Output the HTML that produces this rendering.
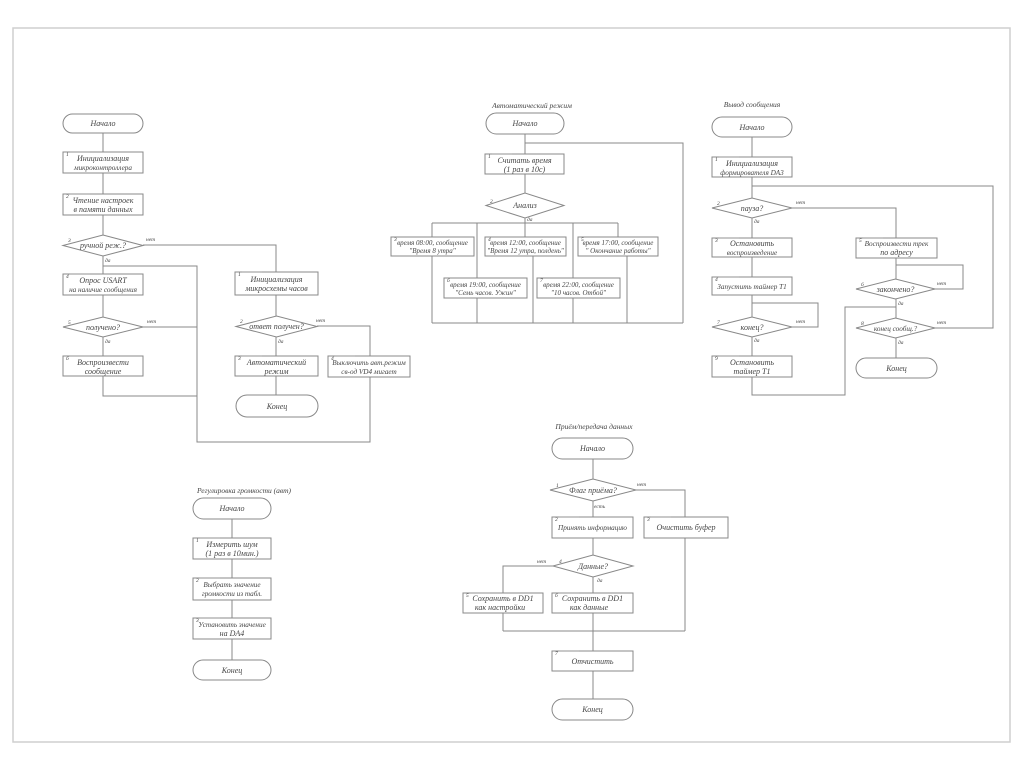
<!DOCTYPE html>
<html>
<head>
<meta charset="utf-8">
<style>
html,body{margin:0;padding:0;background:#fff;}
svg{display:block;}
text{font-family:"Liberation Serif","Noto Serif CJK SC",serif;font-style:italic;fill:#454545;}
.t{font-size:8px;text-anchor:middle;}
.t7{font-size:7.2px;text-anchor:middle;}
.s{font-size:7px;text-anchor:middle;}
.n{font-size:5.5px;}
.l{font-size:5.5px;}
.h{font-size:7.5px;text-anchor:middle;}
</style>
</head>
<body>
<svg width="1024" height="767" viewBox="0 0 1024 767" xmlns="http://www.w3.org/2000/svg">
<rect x="0" y="0" width="1024" height="767" fill="#fff"/>
<rect x="13" y="28" width="997" height="714" fill="none" stroke="#cfcfcf" stroke-width="1.5"/>

<g fill="none" stroke="#888" stroke-width="1">
<!-- ===== Left chart ===== -->
<rect x="63" y="114" width="80" height="19" rx="9.5"/>
<line x1="103" y1="133" x2="103" y2="152"/>
<rect x="63" y="152" width="80" height="21"/>
<line x1="103" y1="173" x2="103" y2="194"/>
<rect x="63" y="194" width="80" height="21"/>
<line x1="103" y1="215" x2="103" y2="235"/>
<polygon points="63,245.5 103,235 143,245.5 103,256"/>
<polyline points="143,245 276,245 276,272"/>
<line x1="103" y1="256" x2="103" y2="274"/>
<polyline points="103,266 197,266 197,442 370,442 370,377"/>
<rect x="63" y="274" width="80" height="21"/>
<line x1="103" y1="295" x2="103" y2="317"/>
<polygon points="63,327 103,317 143,327 103,337"/>
<line x1="143" y1="327" x2="197" y2="327"/>
<line x1="103" y1="337" x2="103" y2="356"/>
<rect x="63" y="356" width="80" height="20"/>
<polyline points="103,376 103,396 197,396"/>

<rect x="235" y="272" width="83" height="23"/>
<line x1="276" y1="295" x2="276" y2="316"/>
<polygon points="236,326.5 276.5,316 317,326.5 276.5,337"/>
<polyline points="317,326 370,326 370,356"/>
<line x1="276" y1="337" x2="276" y2="356"/>
<rect x="235" y="356" width="83" height="20"/>
<rect x="328" y="356" width="82" height="21"/>
<line x1="276" y1="376" x2="276" y2="395"/>
<rect x="236" y="395" width="82" height="22" rx="11"/>

<!-- ===== Automatic mode ===== -->
<rect x="486" y="113" width="78" height="21" rx="10.5"/>
<line x1="525" y1="134" x2="525" y2="154"/>
<polyline points="683,323 683,143 525,143"/>
<rect x="485" y="154" width="79" height="20"/>
<line x1="525" y1="174" x2="525" y2="193"/>
<polygon points="486,205.5 525,193 564,205.5 525,218"/>
<line x1="525" y1="218" x2="525" y2="223"/>
<line x1="432" y1="223" x2="618" y2="223"/>
<line x1="432" y1="223" x2="432" y2="237"/>
<line x1="477" y1="223" x2="477" y2="278"/>
<line x1="525" y1="223" x2="525" y2="237"/>
<line x1="573" y1="223" x2="573" y2="278"/>
<line x1="618" y1="223" x2="618" y2="237"/>
<rect x="391" y="237" width="83" height="19"/>
<rect x="485" y="237" width="81" height="19"/>
<rect x="578" y="237" width="80" height="19"/>
<rect x="444" y="278" width="83" height="20"/>
<rect x="537" y="278" width="83" height="20"/>
<line x1="432" y1="256" x2="432" y2="323"/>
<line x1="477" y1="298" x2="477" y2="323"/>
<line x1="533" y1="256" x2="533" y2="323"/>
<line x1="573" y1="298" x2="573" y2="323"/>
<line x1="627" y1="256" x2="627" y2="323"/>
<line x1="432" y1="323" x2="683" y2="323"/>

<!-- ===== Message output ===== -->
<rect x="712" y="117" width="80" height="20" rx="10"/>
<line x1="752" y1="137" x2="752" y2="157"/>
<rect x="712" y="157" width="80" height="20"/>
<line x1="752" y1="177" x2="752" y2="198"/>
<polyline points="935,328 993,328 993,186 752,186"/>
<polygon points="712,208 752,198 792,208 752,218"/>
<polyline points="792,208 896,208 896,238"/>
<line x1="752" y1="218" x2="752" y2="238"/>
<rect x="712" y="238" width="80" height="19"/>
<rect x="856" y="238" width="81" height="20"/>
<line x1="752" y1="257" x2="752" y2="277"/>
<rect x="712" y="277" width="80" height="18"/>
<line x1="752" y1="295" x2="752" y2="317"/>
<polyline points="792,327 818,327 818,303 752,303"/>
<polygon points="712,327 752,317 792,327 752,337"/>
<line x1="752" y1="337" x2="752" y2="356"/>
<rect x="712" y="356" width="80" height="21"/>
<polyline points="752,377 752,395 845,395 845,307 896,307"/>
<line x1="896" y1="258" x2="896" y2="279"/>
<polyline points="935,289 963,289 963,265 896,265"/>
<polygon points="856,289 895.5,279 935,289 895.5,299"/>
<line x1="896" y1="299" x2="896" y2="318"/>
<polygon points="856,328 895.5,318 935,328 895.5,338"/>
<line x1="896" y1="338" x2="896" y2="358"/>
<rect x="856" y="358" width="81" height="20" rx="10"/>

<!-- ===== Volume ===== -->
<rect x="193" y="498" width="78" height="21" rx="10.5"/>
<line x1="232" y1="519" x2="232" y2="538"/>
<rect x="193" y="538" width="78" height="21"/>
<line x1="232" y1="559" x2="232" y2="578"/>
<rect x="193" y="578" width="78" height="22"/>
<line x1="232" y1="600" x2="232" y2="618"/>
<rect x="193" y="618" width="78" height="21"/>
<line x1="232" y1="639" x2="232" y2="660"/>
<rect x="193" y="660" width="78" height="20" rx="10"/>

<!-- ===== Receive/transmit ===== -->
<rect x="552" y="438" width="81" height="21" rx="10.5"/>
<line x1="593" y1="459" x2="593" y2="479"/>
<polygon points="550,490 593,479 636,490 593,501"/>
<polyline points="636,490 685,490 685,517"/>
<line x1="593" y1="501" x2="593" y2="517"/>
<rect x="552" y="517" width="81" height="21"/>
<rect x="644" y="517" width="84" height="21"/>
<line x1="593" y1="538" x2="593" y2="555"/>
<polygon points="553,566 593,555 633,566 593,577"/>
<polyline points="553,566 503,566 503,593"/>
<line x1="593" y1="577" x2="593" y2="593"/>
<rect x="463" y="593" width="80" height="20"/>
<rect x="552" y="593" width="81" height="20"/>
<line x1="503" y1="613" x2="503" y2="631"/>
<line x1="593" y1="613" x2="593" y2="651"/>
<line x1="685" y1="538" x2="685" y2="631"/>
<line x1="503" y1="631" x2="685" y2="631"/>
<rect x="552" y="651" width="81" height="20"/>
<line x1="593" y1="671" x2="593" y2="699"/>
<rect x="552" y="699" width="81" height="21" rx="10.5"/>
</g>

<!-- number label ticks -->
<g stroke="#9a9a9a" stroke-width="0.6">
<line x1="70" y1="152" x2="90" y2="152"/>
<line x1="70" y1="194" x2="90" y2="194"/>
<line x1="70" y1="274" x2="90" y2="274"/>
<line x1="70" y1="356" x2="90" y2="356"/>
<line x1="242" y1="272" x2="262" y2="272"/>
<line x1="242" y1="356" x2="262" y2="356"/>
<line x1="335" y1="356" x2="355" y2="356"/>
<line x1="492" y1="154" x2="512" y2="154"/>
<line x1="719" y1="157" x2="739" y2="157"/>
<line x1="719" y1="238" x2="739" y2="238"/>
<line x1="863" y1="238" x2="883" y2="238"/>
<line x1="719" y1="277" x2="739" y2="277"/>
<line x1="719" y1="356" x2="739" y2="356"/>
<line x1="200" y1="538" x2="220" y2="538"/>
<line x1="200" y1="578" x2="220" y2="578"/>
<line x1="200" y1="618" x2="220" y2="618"/>
<line x1="559" y1="517" x2="579" y2="517"/>
<line x1="651" y1="517" x2="671" y2="517"/>
<line x1="470" y1="593" x2="490" y2="593"/>
<line x1="559" y1="593" x2="579" y2="593"/>
<line x1="559" y1="651" x2="579" y2="651"/>
</g>

<!-- ===== Texts: left chart ===== -->
<text class="t" x="103" y="126">Начало</text>
<text class="n" x="66" y="156">1</text>
<text class="t" x="103" y="161">Инициализация</text>
<text class="t7" x="103" y="170">микроконтроллера</text>
<text class="n" x="66" y="198">2</text>
<text class="t" x="103" y="203">Чтение настроек</text>
<text class="t" x="103" y="212">в памяти данных</text>
<text class="n" x="68" y="242">3</text>
<text class="t" x="103" y="248">ручной реж.?</text>
<text class="l" x="146" y="241">нет</text>
<text class="l" x="105" y="262">да</text>
<text class="n" x="66" y="278">4</text>
<text class="t" x="103" y="283">Опрос USART</text>
<text class="t7" x="103" y="292">на наличие сообщения</text>
<text class="n" x="68" y="324">5</text>
<text class="t" x="103" y="330">получено?</text>
<text class="l" x="147" y="323">нет</text>
<text class="l" x="105" y="343">да</text>
<text class="n" x="66" y="360">6</text>
<text class="t" x="103" y="365">Воспроизвести</text>
<text class="t" x="103" y="374">сообщение</text>

<text class="n" x="238" y="276">1</text>
<text class="t" x="276.5" y="282">Инициализация</text>
<text class="t" x="276.5" y="291">микросхемы часов</text>
<text class="n" x="240" y="323">2</text>
<text class="t" x="276.5" y="329">ответ получен?</text>
<text class="l" x="316" y="322">нет</text>
<text class="l" x="278" y="343">да</text>
<text class="n" x="238" y="360">3</text>
<text class="t" x="276.5" y="365">Автоматический</text>
<text class="t" x="276.5" y="374">режим</text>
<text class="n" x="331" y="360">4</text>
<text class="t7" x="369" y="365">Выключить авт.режим</text>
<text class="t7" x="369" y="374">св-од VD4 мигает</text>
<text class="t" x="277" y="409">Конец</text>

<!-- ===== Automatic mode texts ===== -->
<text class="h" x="532" y="108">Автоматический режим</text>
<text class="t" x="525" y="126">Начало</text>
<text class="n" x="488" y="158">1</text>
<text class="t" x="524.5" y="163">Считать время</text>
<text class="t" x="524.5" y="172">(1 раз в 10с)</text>
<text class="n" x="490" y="203">2</text>
<text class="t" x="525" y="208">Анализ</text>
<text class="l" x="527" y="221">да</text>
<text class="n" x="394" y="241">3</text>
<text class="s" x="432.5" y="245">время 08:00, сообщение</text>
<text class="s" x="432.5" y="253">"Время 8 утра"</text>
<text class="n" x="488" y="241">4</text>
<text class="s" x="525.5" y="245">время 12:00, сообщение</text>
<text class="s" x="525.5" y="253">"Время 12 утра, полдень"</text>
<text class="n" x="581" y="241">5</text>
<text class="s" x="618" y="245">время 17:00, сообщение</text>
<text class="s" x="618" y="253">" Окончание работы"</text>
<text class="n" x="447" y="282">6</text>
<text class="s" x="485.5" y="287">время 19:00, сообщение</text>
<text class="s" x="485.5" y="295">"Семь часов. Ужин"</text>
<text class="n" x="540" y="282">7</text>
<text class="s" x="578.5" y="287">время 22:00, сообщение</text>
<text class="s" x="578.5" y="295">"10 часов. Отбой"</text>

<!-- ===== Message output texts ===== -->
<text class="h" x="752" y="107">Вывод сообщения</text>
<text class="t" x="752" y="130">Начало</text>
<text class="n" x="715" y="161">1</text>
<text class="t" x="752" y="166">Инициализация</text>
<text class="t7" x="752" y="175">формирователя DA3</text>
<text class="n" x="717" y="205">2</text>
<text class="t" x="752" y="211">пауза?</text>
<text class="l" x="796" y="204">нет</text>
<text class="l" x="754" y="223">да</text>
<text class="n" x="715" y="242">3</text>
<text class="t" x="752" y="246">Остановить</text>
<text class="t7" x="752" y="255">воспроизведение</text>
<text class="n" x="859" y="242">5</text>
<text class="t7" x="896.5" y="246">Воспроизвести трек</text>
<text class="t" x="896.5" y="255">по адресу</text>
<text class="n" x="715" y="281">4</text>
<text class="t7" x="752" y="289">Запустить таймер Т1</text>
<text class="n" x="717" y="324">7</text>
<text class="t" x="752" y="330">конец?</text>
<text class="l" x="796" y="323">нет</text>
<text class="l" x="754" y="342">да</text>
<text class="n" x="715" y="360">9</text>
<text class="t" x="752" y="365">Остановить</text>
<text class="t" x="752" y="374">таймер Т1</text>
<text class="n" x="861" y="286">6</text>
<text class="t" x="895.5" y="292">закончено?</text>
<text class="l" x="937" y="285">нет</text>
<text class="l" x="898" y="305">да</text>
<text class="n" x="861" y="325">8</text>
<text class="t7" x="895.5" y="331">конец сообщ.?</text>
<text class="l" x="937" y="324">нет</text>
<text class="l" x="898" y="344">да</text>
<text class="t" x="896.5" y="371">Конец</text>

<!-- ===== Volume texts ===== -->
<text class="h" x="244" y="493">Регулировка громкости (авт)</text>
<text class="t" x="232" y="511">Начало</text>
<text class="n" x="196" y="542">1</text>
<text class="t" x="232" y="547">Измерить шум</text>
<text class="t" x="232" y="556">(1 раз в 10мин.)</text>
<text class="n" x="196" y="582">2</text>
<text class="t7" x="232" y="587">Выбрать значение</text>
<text class="t7" x="232" y="596">громкости из табл.</text>
<text class="n" x="196" y="622">3</text>
<text class="t7" x="232" y="627">Установить значение</text>
<text class="t" x="232" y="636">на DA4</text>
<text class="t" x="232" y="673">Конец</text>

<!-- ===== Receive/transmit texts ===== -->
<text class="h" x="594" y="429">Приём/передача данных</text>
<text class="t" x="592.5" y="451">Начало</text>
<text class="n" x="556" y="487">1</text>
<text class="t" x="593" y="493">Флаг приёма?</text>
<text class="l" x="637" y="486">нет</text>
<text class="l" x="594" y="508">есть</text>
<text class="n" x="555" y="521">2</text>
<text class="t7" x="592.5" y="530">Принять информацию</text>
<text class="n" x="647" y="521">3</text>
<text class="t" x="686" y="530">Очистить буфер</text>
<text class="n" x="559" y="563">4</text>
<text class="t" x="593" y="569">Данные?</text>
<text class="l" x="537" y="563">нет</text>
<text class="l" x="597" y="582">да</text>
<text class="n" x="466" y="597">5</text>
<text class="t" x="503" y="601">Сохранить в DD1</text>
<text class="t" x="500" y="610">как настройки</text>
<text class="n" x="555" y="597">6</text>
<text class="t" x="592.5" y="601">Сохранить в DD1</text>
<text class="t" x="589" y="610">как данные</text>
<text class="n" x="555" y="655">7</text>
<text class="t" x="592.5" y="664">Отчистить</text>
<text class="t" x="592.5" y="712">Конец</text>
</svg>
</body>
</html>
